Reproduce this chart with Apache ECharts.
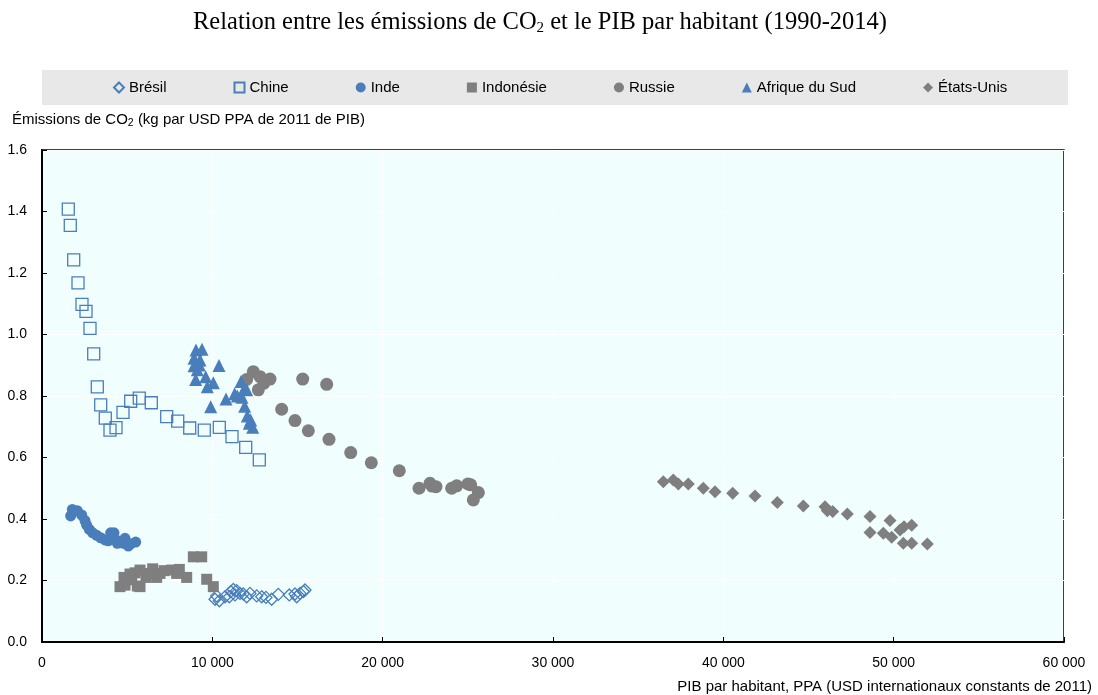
<!DOCTYPE html>
<html>
<head>
<meta charset="utf-8">
<script src="https://cdn.jsdelivr.net/npm/echarts@6/dist/echarts.min.js"></script>
<style>
  html, body { margin: 0; padding: 0; background: #fff; }
  #chart { width: 1098px; height: 695px; }
</style>
</head>
<body>
<div id="chart"></div>
<script>
// GDP per capita (PPP, 2011 intl. USD) and CO2 intensity (kg per USD of GDP), 1990-2014
const bresil = [
  [10157, 0.139], [10410, 0.134], [10254, 0.150], [10744, 0.147], [10998, 0.147],
  [11079, 0.164], [11232, 0.171], [11428, 0.167], [11331, 0.153], [11624, 0.158],
  [11819, 0.156], [12017, 0.147], [12211, 0.158], [12605, 0.150], [12898, 0.147],
  [13151, 0.145], [13485, 0.139], [13873, 0.155], [14519, 0.153], [14853, 0.156],
  [14953, 0.147], [15147, 0.158], [15342, 0.164], [15441, 0.169]
];
const chine = [
  [1544, 1.408], [1661, 1.355], [1861, 1.243], [2114, 1.168], [2348, 1.098],
  [2583, 1.075], [2818, 1.020], [3035, 0.937], [3247, 0.830], [3446, 0.771],
  [3716, 0.728], [3992, 0.689], [4345, 0.697], [4755, 0.747], [5207, 0.783],
  [5712, 0.793], [6417, 0.778], [7321, 0.733], [7967, 0.718], [8671, 0.696],
  [9528, 0.689], [10409, 0.698], [11155, 0.668], [11959, 0.633], [12758, 0.592]
];
const inde = [
  [1683, 0.410], [1781, 0.431], [2074, 0.427], [2329, 0.413], [2524, 0.395],
  [2622, 0.380], [2779, 0.366], [2974, 0.355], [3210, 0.347], [3446, 0.339],
  [3699, 0.332], [3895, 0.329], [4032, 0.355], [4227, 0.355], [4345, 0.332],
  [4423, 0.321], [4579, 0.326], [4776, 0.321], [4873, 0.337], [5069, 0.312],
  [5207, 0.319], [5500, 0.325]
];
const indonesie = [
  [4579, 0.180], [4814, 0.210], [4873, 0.185], [5167, 0.221], [5265, 0.202],
  [5460, 0.225], [5597, 0.182], [5754, 0.234], [5754, 0.180], [6106, 0.210],
  [6243, 0.223], [6497, 0.238], [6732, 0.210], [6928, 0.223], [7163, 0.232],
  [7613, 0.234], [7906, 0.223], [8062, 0.236], [8495, 0.210], [8885, 0.277],
  [9376, 0.277], [9670, 0.204], [10057, 0.180]
];
const russie = [
  [12406, 0.879], [12017, 0.854], [12799, 0.863], [13386, 0.855], [12700, 0.820],
  [13033, 0.842], [15306, 0.855], [16714, 0.838], [14071, 0.757], [14853, 0.720],
  [15636, 0.687], [16850, 0.659], [18124, 0.616], [19334, 0.583], [20977, 0.557],
  [22134, 0.500], [22779, 0.516], [22896, 0.507], [23132, 0.505], [24053, 0.500],
  [24347, 0.508], [25010, 0.514], [25169, 0.511], [25616, 0.486], [25322, 0.462]
];
const afriqueDuSud = [
  [9041, 0.950], [9394, 0.952], [8924, 0.923], [9276, 0.917], [8924, 0.898],
  [9236, 0.901], [10392, 0.899], [9118, 0.885], [9023, 0.854], [9610, 0.863],
  [10057, 0.843], [9705, 0.830], [9904, 0.765], [10802, 0.790], [11312, 0.807],
  [11468, 0.800], [11683, 0.847], [11859, 0.822], [12017, 0.820], [11742, 0.796],
  [11899, 0.767], [12053, 0.735], [12170, 0.711], [12253, 0.722], [12370, 0.698]
];
const etatsUnis = [
  [36477, 0.521], [37064, 0.527], [37358, 0.514], [37945, 0.514], [38826, 0.500],
  [39511, 0.489], [40551, 0.484], [41860, 0.475], [43170, 0.454], [44696, 0.442],
  [45970, 0.440], [46105, 0.427], [46420, 0.424], [47279, 0.416], [48612, 0.408],
  [48612, 0.356], [49393, 0.354], [49785, 0.395], [49883, 0.341], [50372, 0.364],
  [50606, 0.375], [51059, 0.380], [50567, 0.321], [51059, 0.321], [51977, 0.319]
];

const seriesNames = ['Brésil', 'Chine', 'Inde', 'Indonésie', 'Russie', 'Afrique du Sud', 'États-Unis'];
const seriesData = [bresil, chine, inde, indonesie, russie, afriqueDuSud, etatsUnis];

const BLUE = '#4A7EBB';
const GREY = '#7F7F7F';
const FONT = 'Liberation Sans, Arial, sans-serif';

// marker style per country: symbol, size, fill, outline
const markerStyles = [
  { symbol: 'diamond',  size: 12, color: 'rgba(0,0,0,0)', border: BLUE },
  { symbol: 'rect',     size: 12, color: 'rgba(0,0,0,0)', border: BLUE },
  { symbol: 'circle',   size: 11, color: BLUE, border: null },
  { symbol: 'rect',     size: 11, color: GREY, border: null },
  { symbol: 'circle',   size: 13, color: GREY, border: null },
  { symbol: 'triangle', size: 13, color: BLUE, border: null },
  { symbol: 'diamond',  size: 13, color: GREY, border: null }
];

function thousands(v) {
  return String(v).replace(/\B(?=(\d{3})+(?!\d))/g, ' ');
}

const series = seriesNames.map((name, i) => {
  const m = markerStyles[i];
  return {
    name: name,
    type: 'scatter',
    data: seriesData[i],
    symbol: m.symbol,
    symbolSize: m.size,
    itemStyle: m.border
      ? { color: m.color, borderColor: m.border, borderWidth: 1.3, opacity: 1 }
      : { color: m.color, opacity: 1 },
    emphasis: { disabled: true }
  };
});

const chart = echarts.init(document.getElementById('chart'), null, { renderer: 'canvas' });

chart.setOption({
  animation: false,
  backgroundColor: '#ffffff',
  graphic: [
    { type: 'rect', z: 0, shape: { x: 42, y: 70, width: 1026, height: 35 }, style: { fill: '#E8E8E8' } },
    {
      type: 'text', z: 5, x: 540, y: 23,
      style: {
        text: 'Relation entre les émissions de CO{sub|2} et le PIB par habitant (1990-2014)',
        font: '24.5px "Liberation Serif", "Times New Roman", serif',
        fill: '#000', align: 'center', verticalAlign: 'middle',
        rich: { sub: { fontSize: 15, fontFamily: 'Liberation Serif', padding: [11, 0, 0, 0] } }
      }
    },
    {
      type: 'text', z: 5, x: 12, y: 120,
      style: {
        text: 'Émissions de CO{sub|2} (kg par USD PPA de 2011 de PIB)',
        font: '15px ' + FONT, fill: '#000', align: 'left', verticalAlign: 'middle',
        rich: { sub: { fontSize: 10.5, fontFamily: 'Liberation Sans', padding: [7, 0, 0, 0] } }
      }
    },
    {
      type: 'text', z: 5, x: 1092, y: 687,
      style: {
        text: 'PIB par habitant, PPA (USD internationaux constants de 2011)',
        font: '15px ' + FONT, fill: '#000', align: 'right', verticalAlign: 'middle'
      }
    }
  ],
  legend: {
    data: seriesNames,
    left: 113,
    top: 80,
    padding: 0,
    itemGap: 67,
    itemWidth: 10,
    itemHeight: 10,
    textStyle: { fontSize: 15, fontFamily: FONT, color: '#000' },
    selectedMode: false
  },
  grid: {
    left: 42, top: 150, right: 34, bottom: 53,
    show: true,
    backgroundColor: '#F0FEFE',
    borderColor: '#000',
    borderWidth: 1.5
  },
  xAxis: {
    type: 'value',
    min: 0, max: 60000, interval: 10000,
    axisLine: { show: true, lineStyle: { color: '#000', width: 2 } },
    axisTick: { show: true, inside: true, length: 5, lineStyle: { color: '#000' } },
    axisLabel: { margin: 14, fontSize: 14, fontFamily: FONT, color: '#000', formatter: thousands },
    splitLine: { show: true, lineStyle: { color: '#ffffff', width: 1 } }
  },
  yAxis: {
    type: 'value',
    min: 0, max: 1.6, interval: 0.2,
    axisLine: { show: true, lineStyle: { color: '#000', width: 2 } },
    axisTick: { show: true, inside: true, length: 5, lineStyle: { color: '#000' } },
    axisLabel: { margin: 15, fontSize: 14, fontFamily: FONT, color: '#000', formatter: v => v.toFixed(1) },
    splitLine: { show: true, lineStyle: { color: '#ffffff', width: 1 } }
  },
  series: series
});
</script>
</body>
</html>
